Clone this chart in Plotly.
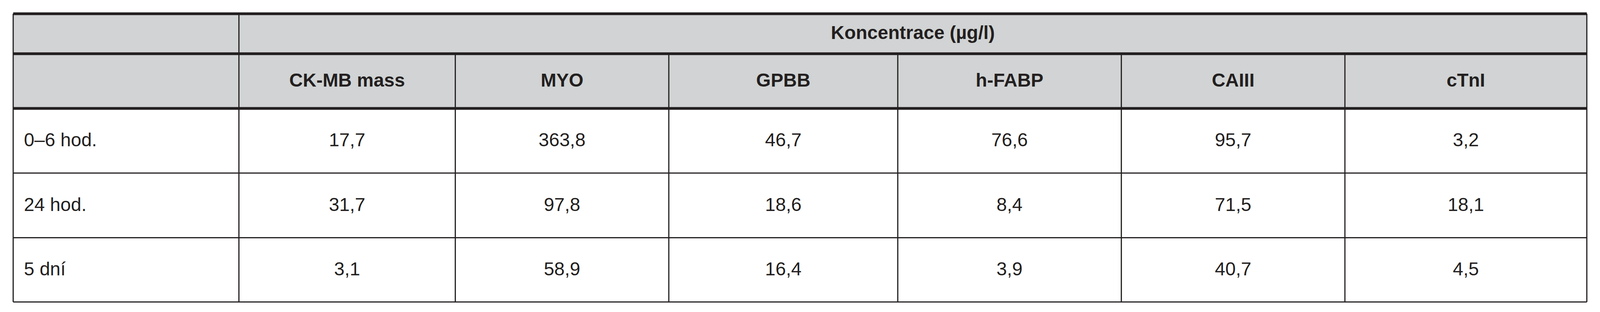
import plotly.graph_objects as go

group_title = "Koncentrace (µg/l)"
columns = ["CK-MB mass", "MYO", "GPBB", "h-FABP", "CAIII", "cTnI"]
rows = ["0–6 hod.", "24 hod.", "5 dní"]
ckmb = ["17,7", "31,7", "3,1"]
myo = ["363,8", "97,8", "58,9"]
gpbb = ["46,7", "18,6", "16,4"]
hfabp = ["76,6", "8,4", "3,9"]
caiii = ["95,7", "71,5", "40,7"]
ctni = ["3,2", "18,1", "4,5"]
values = [ckmb, myo, gpbb, hfabp, caiii, ctni]

W, H = 4434, 800
xb = [28, 656, 1258, 1852, 2489, 3111, 3733, 4406]
yb = [28, 133, 277, 447, 617, 786]
GRAY = "#d1d3d4"
INK = "#231f20"
FONT = "Liberation Sans Narrow, Arial Narrow, Liberation Sans, Arial"
FS = 48

shapes = []
shapes.append(dict(type="rect", x0=xb[0], x1=xb[-1], y0=yb[0], y1=yb[2],
                   fillcolor=GRAY, line=dict(width=0), layer="below"))
for i, y in enumerate(yb):
    w = 7 if i in (0, 1, 2) else 3
    shapes.append(dict(type="line", x0=xb[0], x1=xb[-1], y0=y, y1=y, line=dict(color=INK, width=w)))
for j, x in enumerate(xb):
    y0 = yb[0] if j in (0, 1, len(xb) - 1) else yb[1]
    shapes.append(dict(type="line", x0=x, x1=x, y0=y0, y1=yb[-1], line=dict(color=INK, width=3)))

fig = go.Figure()
fig.add_trace(go.Scatter(x=[(xb[1] + xb[-1]) / 2], y=[(yb[0] + yb[1]) / 2 + 2], mode="text",
                         text=["<b>" + group_title + "</b>"],
                         textfont=dict(family=FONT, size=FS, color=INK), hoverinfo="skip"))
fig.add_trace(go.Scatter(x=[(xb[j + 1] + xb[j + 2]) / 2 for j in range(len(columns))],
                         y=[(yb[1] + yb[2]) / 2 + 2] * len(columns), mode="text",
                         text=["<b>" + c + "</b>" for c in columns],
                         textfont=dict(family=FONT, size=FS, color=INK), hoverinfo="skip"))
fig.add_trace(go.Scatter(x=[xb[0] + 30] * len(rows), y=[(yb[i + 2] + yb[i + 3]) / 2 + 2 for i in range(len(rows))],
                         mode="text", text=rows, textposition="middle right",
                         textfont=dict(family=FONT, size=FS, color=INK), hoverinfo="skip"))
for j, col in enumerate(values):
    fig.add_trace(go.Scatter(x=[(xb[j + 1] + xb[j + 2]) / 2] * len(col),
                             y=[(yb[i + 2] + yb[i + 3]) / 2 + 2 for i in range(len(col))],
                             mode="text", text=col,
                             textfont=dict(family=FONT, size=FS, color=INK), hoverinfo="skip"))

fig.update_layout(autosize=True, height=H - 20, margin=dict(l=0, r=0, t=0, b=0),
                  paper_bgcolor="white", plot_bgcolor="white", showlegend=False,
                  shapes=shapes,
                  xaxis=dict(range=[0, W], visible=False, fixedrange=True),
                  yaxis=dict(range=[H, 0], visible=False, fixedrange=True))
fig.write_html("out.html", config={"responsive": True, "displayModeBar": False},
               default_width="100%", default_height=f"{H - 20}px")
